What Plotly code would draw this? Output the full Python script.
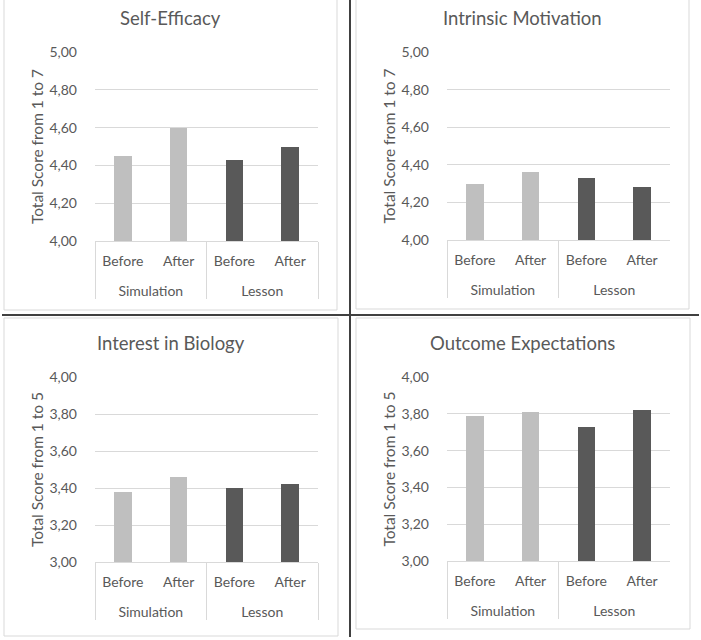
import plotly.graph_objects as go

# ---- data ----
groups = ["Simulation", "Simulation", "Lesson", "Lesson"]
phases = ["Before", "After", "Before", "After"]

self_efficacy = [4.45, 4.60, 4.43, 4.50]
intrinsic_motivation = [4.30, 4.36, 4.33, 4.28]
interest_biology = [3.38, 3.46, 3.40, 3.42]
outcome_expectations = [3.79, 3.81, 3.73, 3.82]

panel_titles = ["Self-Efficacy", "Intrinsic Motivation", "Interest in Biology", "Outcome Expectations"]
y_titles = ["Total Score from 1 to 7", "Total Score from 1 to 7",
            "Total Score from 1 to 5", "Total Score from 1 to 5"]
y_ranges = [[4.0, 5.0], [4.0, 5.0], [3.0, 4.0], [3.0, 4.0]]
y_tick_step = 0.2

bar_colors = {"Simulation": "#bfbfbf", "Lesson": "#595959"}

# ---- layout geometry (pixels) ----
W, H = 701, 640
plot_boxes = [  # x0, x1, ytop, ybottom
    (95, 318, 52, 241),
    (447, 670, 52, 240),
    (95, 318, 377, 562),
    (447, 670, 377, 561),
]
title_pos = [(170, 18), (522, 18), (171, 343), (522, 343)]
frames = [(4, -2, 337, 310), (356, -2, 689, 309), (4, 318, 338, 636), (356, 318, 690, 629)]

FONT = "Lato"
TXT = "#595959"
GRID = "#d9d9d9"

# spacer so the group row sits a little lower, as in the reference
PAD = "<span style='font-size:29px'>\u200a</span>"
phase_labels = [PAD + p + PAD for p in phases]

fig = go.Figure()
layout = dict(
    width=W, height=H, margin=dict(l=0, r=0, t=0, b=0, pad=0, autoexpand=False),
    paper_bgcolor="white", plot_bgcolor="white",
    separators=",.", showlegend=False, bargap=0,
    font=dict(family=FONT, color=TXT, size=14),
)
series = [self_efficacy, intrinsic_motivation, interest_biology, outcome_expectations]
annotations = []
shapes = []
for i, vals in enumerate(series):
    s = "" if i == 0 else str(i + 1)
    x0, x1, yt, yb = plot_boxes[i]
    fig.add_trace(go.Bar(
        x=[groups, phase_labels], y=vals,
        marker=dict(color=[bar_colors[g] for g in groups], line=dict(width=0)),
        width=0.31, xaxis="x" + s, yaxis="y" + s, hoverinfo="y",
    ))
    layout["xaxis" + s] = dict(
        domain=[x0 / W, x1 / W], anchor="y" + s, type="multicategory",
        automargin=False, tickangle=0, ticklabelstandoff=7,
        showline=True, linecolor=GRID, linewidth=1,
        showdividers=True, dividercolor=GRID, dividerwidth=1,
        ticks="", tickfont=dict(family=FONT, size=14, color=TXT),
        showgrid=False, fixedrange=True,
    )
    layout["yaxis" + s] = dict(
        domain=[1 - yb / H, 1 - yt / H], anchor="x" + s, automargin=False,
        range=y_ranges[i], dtick=y_tick_step, tick0=y_ranges[i][0], tickformat=".2f",
        showgrid=True, gridcolor=GRID, gridwidth=1, zeroline=False,
        showline=False, ticks="", ticklabelstandoff=17,
        tickfont=dict(family=FONT, size=14, color=TXT), fixedrange=True,
        title=dict(text=y_titles[i], font=dict(family=FONT, size=15.5, color=TXT), standoff=2),
    )
    tx, ty = title_pos[i]
    annotations.append(dict(
        text=panel_titles[i], x=tx / W, y=1 - ty / H, xref="paper", yref="paper",
        xanchor="center", yanchor="middle", showarrow=False,
        font=dict(family=FONT, size=18.5, color=TXT),
    ))
    fx0, fy0, fx1, fy1 = frames[i]
    shapes.append(dict(type="rect", xref="paper", yref="paper",
                       x0=fx0 / W, x1=fx1 / W, y0=1 - fy1 / H, y1=1 - fy0 / H,
                       line=dict(color=GRID, width=1), fillcolor="rgba(0,0,0,0)", layer="below"))

# black separators between the panels
shapes.append(dict(type="line", xref="paper", yref="paper",
                   x0=2 / W, x1=699 / W, y0=1 - 315 / H, y1=1 - 315 / H,
                   line=dict(color="#404040", width=2)))
shapes.append(dict(type="line", xref="paper", yref="paper",
                   x0=350 / W, x1=350 / W, y0=1 - 0 / H, y1=1 - 637 / H,
                   line=dict(color="#404040", width=2)))

layout["annotations"] = annotations
layout["shapes"] = shapes
fig.update_layout(**layout)
fig.write_html(
    "out.html",
    config={"displayModeBar": False},
    post_script="document.body.style.margin='0';document.body.style.overflow='hidden';",
)
